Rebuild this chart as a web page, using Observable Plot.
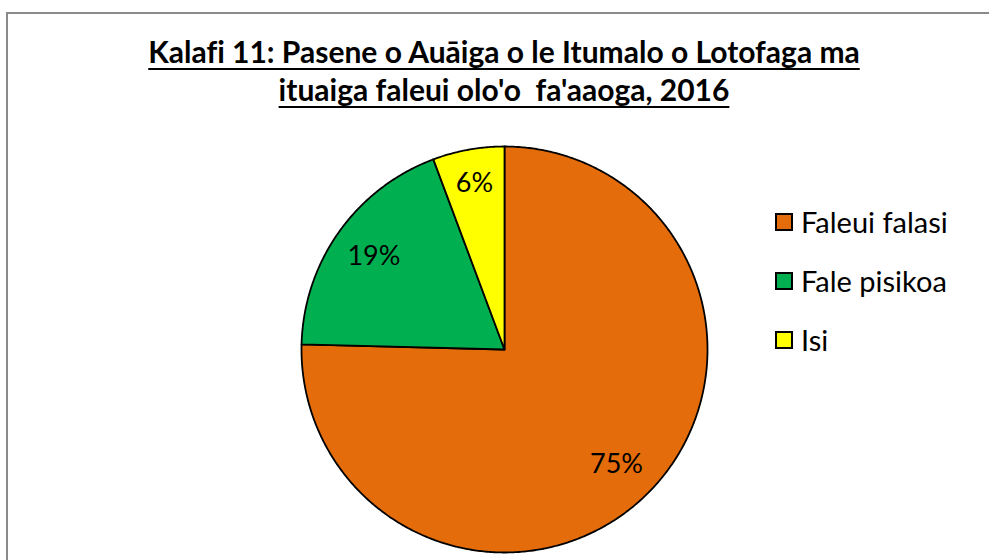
<!DOCTYPE html>
<html>
<head>
<meta charset="utf-8">
<script src="https://cdn.jsdelivr.net/npm/d3@7"></script>
<script src="https://cdn.jsdelivr.net/npm/@observablehq/plot@0.6"></script>
<style>
  html, body { margin: 0; padding: 0; background: #fff; }
  #wrap { position: relative; width: 989px; height: 560px; overflow: hidden; background: #fff; }
  #frame { position: absolute; left: 6px; top: 12px; width: 1100px; height: 700px; border: 2px solid #8a8a8a; pointer-events: none; z-index: 5; }
  #title { position: absolute; left: 0; top: 32px; width: 1008px; text-align: center; font-family: Lato, "Open Sans", sans-serif; font-weight: bold; font-size: 30px; line-height: 38px; color: #000; z-index: 3; white-space: pre; font-variant-ligatures: none; }
  #title span { text-decoration: underline; text-decoration-thickness: 2px; text-underline-offset: 5px; }
  #chart { position: absolute; left: 0; top: 0; z-index: 2; }
  #legend { position: absolute; left: 776px; top: 192px; z-index: 3; }
  .lg-swatches-columns .lg-swatch { height: 59px; display: flex; align-items: center; padding: 0; }
  .lg-swatch svg { overflow: visible; margin-right: 9px !important; }
  .lg-swatch svg rect { stroke: #000; stroke-width: 2px; }
</style>
</head>
<body>
<div id="wrap">
  <div id="frame"></div>
  <div id="title"></div>
  <div id="chart"></div>
  <div id="legend"></div>
</div>
<script>
// ---- data ----
const titleLines = ["Kalafi 11: Pasene o Auāiga o le Itumalo o Lotofaga ma", "ituaiga faleui olo'o  fa'aaoga, 2016"];
const categories = ["Faleui falasi", "Fale pisikoa", "Isi"];
const values = [75.4, 18.9, 5.7];
const valueLabels = ["75%", "19%", "6%"];
const colors = ["#E46C0A", "#00B050", "#FFFF00"];

// ---- title ----
const t = document.getElementById("title");
titleLines.forEach((line, i) => {
  const s = document.createElement("span");
  s.textContent = line;
  t.appendChild(s);
  if (i < titleLines.length - 1) t.appendChild(document.createElement("br"));
});

// ---- pie geometry (clockwise from 12 o'clock) ----
const total = d3.sum(values);
const polys = [];
const labelPts = [];
let acc = 0;
categories.forEach((name, i) => {
  const a0 = acc / total * 2 * Math.PI;
  acc += values[i];
  const a1 = acc / total * 2 * Math.PI;
  const n = Math.max(2, Math.ceil((a1 - a0) / (Math.PI / 360)));
  polys.push({name, x: 0, y: 0});
  for (let k = 0; k <= n; k++) {
    const a = a0 + (a1 - a0) * k / n;
    polys.push({name, x: Math.sin(a), y: Math.cos(a)});
  }
  const am = (a0 + a1) / 2;
  const r = i === 2 ? 0.83 : 0.79;
  labelPts.push({name, text: valueLabels[i], x: r * Math.sin(am), y: r * Math.cos(am)});
});

const chart = Plot.plot({
  width: 989,
  height: 560,
  marginLeft: 301,
  marginRight: 282,
  marginTop: 146,
  marginBottom: 8,
  style: {background: "transparent"},
  x: {domain: [-1, 1], axis: null},
  y: {domain: [-1, 1], axis: null},
  color: {domain: categories, range: colors},
  marks: [
    Plot.line(polys, {x: "x", y: "y", z: "name", fill: "name", stroke: "#000", strokeWidth: 1.8, curve: "linear-closed", strokeLinejoin: "round"}),
    Plot.text(labelPts, {x: "x", y: "y", text: "text", fontSize: 27, fontFamily: "Lato, 'Open Sans', sans-serif", fill: "#000"})
  ]
});
document.getElementById("chart").appendChild(chart);

const legend = Plot.legend({
  color: {domain: categories, range: colors},
  columns: 1,
  className: "lg",
  swatchSize: 16,
  style: {background: "transparent", fontSize: "29px", fontFamily: "Lato, 'Open Sans', sans-serif", color: "#000"}
});
document.getElementById("legend").appendChild(legend);
</script>
</body>
</html>
